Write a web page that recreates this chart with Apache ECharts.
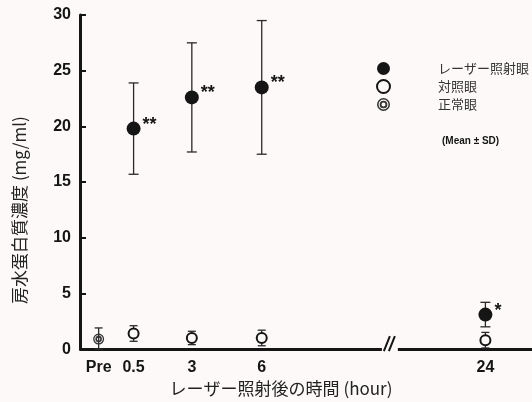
<!DOCTYPE html>
<html>
<head>
<meta charset="utf-8">
<script src="https://cdn.jsdelivr.net/npm/echarts@6/dist/echarts.min.js"></script>
<style>
html, body { margin: 0; padding: 0; background: #fcf9f8; }
#chart { width: 532px; height: 402px; }
</style>
</head>
<body>
<div id="chart"></div>
<script>
// values
const hourLabels = ['Pre', '0.5', '3', '6', '24'];
const hours = [-1, 0.5, 3, 6, 24];
const laserMean = [null, 19.8, 22.6, 23.5, 3.1];
const laserSD = [null, 4.1, 4.9, 6.0, 1.1];
const laserMark = ['', '**', '**', '**', '*'];
const controlMean = [null, 1.4, 1.0, 1.0, 0.8];
const controlSD = [null, 0.7, 0.6, 0.7, 0.7];
const normalMean = [0.9, null, null, null, null];
const normalSD = [1.0, null, null, null, null];
const legendNames = ['レーザー照射眼', '対照眼', '正常眼'];
const breakStart = 11.4;
const breakEnd = 20;

const BG = '#fcf9f8';
const INK = '#151515';
const FONT = '"Liberation Sans", Arial, sans-serif';
const JP = '"Noto Sans CJK JP", sans-serif';

// double circle symbol (two rings)
const ringSymbol = 'path://M1,12 A11,11 0 1,0 23,12 A11,11 0 1,0 1,12 Z ' +
    'M3.6,12 A8.4,8.4 0 1,1 20.4,12 A8.4,8.4 0 1,1 3.6,12 Z ' +
    'M5.5,12 A6.5,6.5 0 1,0 18.5,12 A6.5,6.5 0 1,0 5.5,12 Z ' +
    'M8.6,12 A3.4,3.4 0 1,1 15.4,12 A3.4,3.4 0 1,1 8.6,12 Z';

function rows(mean, sd, marks) {
    const out = [];
    hours.forEach((h, i) => {
        if (mean[i] == null) return;
        out.push([h, mean[i], sd[i], marks ? marks[i] : '']);
    });
    return out;
}

const laserRows = rows(laserMean, laserSD, laserMark);
const controlRows = rows(controlMean, controlSD);
const normalRows = rows(normalMean, normalSD);

function errorBars(data, capHalf) {
    return {
        type: 'custom',
        silent: true,
        z: 1,
        encode: { x: 0, y: 1 },
        data: data,
        renderItem: (params, api) => {
            const x = api.value(0);
            const m = api.value(1);
            const sd = api.value(2);
            const top = api.coord([x, m + sd]);
            const bot = api.coord([x, Math.max(0, m - sd)]);
            const style = { stroke: '#2a2a2a', lineWidth: 1.3 };
            return {
                type: 'group',
                children: [
                    { type: 'line', shape: { x1: top[0], y1: top[1], x2: bot[0], y2: bot[1] }, style: style },
                    { type: 'line', shape: { x1: top[0] - capHalf, y1: top[1], x2: top[0] + capHalf, y2: top[1] }, style: style },
                    { type: 'line', shape: { x1: bot[0] - capHalf, y1: bot[1], x2: bot[0] + capHalf, y2: bot[1] }, style: style }
                ]
            };
        }
    };
}

const chart = echarts.init(document.getElementById('chart'));

const option = {
    animation: false,
    backgroundColor: BG,
    textStyle: { fontFamily: FONT },
    title: {
        text: '(Mean ± SD)',
        left: 437,
        top: 131,
        textStyle: { fontSize: 10, fontWeight: 'bold', color: INK, fontFamily: FONT }
    },
    legend: {
        orient: 'vertical',
        left: 371,
        top: 57,
        itemWidth: 13,
        itemHeight: 13,
        itemGap: 4,
        data: legendNames,
        textStyle: { fontSize: 13, color: '#333', fontFamily: JP, padding: [0, 0, 0, 43] }
    },
    grid: { left: 80, right: 0, top: 15, bottom: 48, containLabel: false },
    xAxis: {
        type: 'value',
        min: -1.8,
        max: 26,
        breaks: [{ start: breakStart, end: breakEnd, gap: 0.2 }],
        breakArea: { show: false },
        axisLine: { show: true, onZero: false, lineStyle: { color: INK, width: 3 } },
        axisTick: { show: false },
        splitLine: { show: false },
        axisLabel: {
            customValues: hours,
            formatter: v => hourLabels[hours.indexOf(v)],
            fontSize: 16,
            fontWeight: 'bold',
            color: INK,
            margin: 10
        },
        name: 'レーザー照射後の時間 (hour)',
        nameLocation: 'middle',
        nameGap: 30,
        nameTextStyle: { fontSize: 17, color: '#222', fontFamily: JP, padding: [0, 50, 0, 0] }
    },
    yAxis: {
        type: 'value',
        min: 0,
        max: 30,
        interval: 5,
        axisLine: { show: true, onZero: false, lineStyle: { color: INK, width: 3 } },
        axisTick: { show: true, inside: true, length: 6, lineStyle: { color: INK, width: 2 } },
        splitLine: { show: false },
        axisLabel: { fontSize: 16, fontWeight: 'bold', color: INK, margin: 9 },
        name: '房水蛋白質濃度 (mg/ml)',
        nameLocation: 'middle',
        nameGap: 52,
        nameTextStyle: { fontSize: 17, color: '#222', fontFamily: JP, padding: [0, 56, 0, 0] }
    },
    series: [
        errorBars(laserRows, 5),
        errorBars(controlRows, 4),
        errorBars(normalRows, 4),
        {
            name: legendNames[0],
            type: 'scatter',
            z: 3,
            symbol: 'circle',
            symbolSize: 14,
            itemStyle: { color: INK, opacity: 1 },
            encode: { x: 0, y: 1 },
            data: laserRows,
            label: {
                show: true,
                position: 'right',
                distance: 2,
                offset: [0, -4],
                formatter: p => p.data[3],
                fontSize: 18,
                fontWeight: 'bold',
                color: INK
            }
        },
        {
            name: legendNames[1],
            type: 'scatter',
            z: 3,
            symbol: 'circle',
            symbolSize: 10,
            itemStyle: { color: BG, borderColor: INK, borderWidth: 2, opacity: 1 },
            encode: { x: 0, y: 1 },
            data: controlRows
        },
        {
            name: legendNames[2],
            type: 'scatter',
            z: 3,
            symbol: ringSymbol,
            symbolSize: 11,
            itemStyle: { color: '#333', opacity: 1 },
            encode: { x: 0, y: 1 },
            data: normalRows
        }
    ]
};

chart.setOption(option);

// axis break mark "//"
const bx = (chart.convertToPixel({ xAxisIndex: 0 }, breakStart) + chart.convertToPixel({ xAxisIndex: 0 }, breakEnd)) / 2;
const by = chart.convertToPixel({ yAxisIndex: 0 }, 0);
const slash = { stroke: INK, lineWidth: 2 };
chart.setOption({
    graphic: [
        { type: 'rect', z: 100, shape: { x: bx - 8, y: by - 3, width: 16, height: 6 }, style: { fill: BG } },
        { type: 'line', z: 101, shape: { x1: bx - 6, y1: by + 2, x2: bx, y2: by - 13 }, style: slash },
        { type: 'line', z: 101, shape: { x1: bx - 1, y1: by + 2, x2: bx + 5, y2: by - 13 }, style: slash }
    ]
});
</script>
</body>
</html>
